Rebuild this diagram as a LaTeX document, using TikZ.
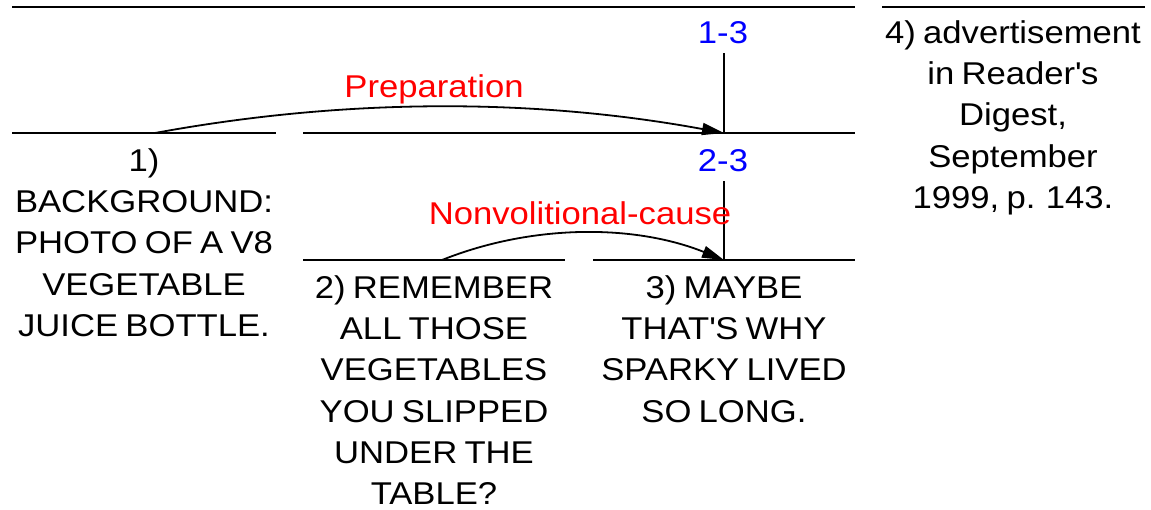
\documentclass[tikz,border=0pt]{standalone}
\usepackage{fontspec}
\setmainfont[FakeStretch=1.1,WordSpace=0.75]{Liberation Sans}
\usetikzlibrary{arrows.meta}
\begin{document}
\begin{tikzpicture}[x=1pt,y=-1pt,
  seg/.style={line width=1.8pt},
  txtfont/.style={font=\fontsize{31.5}{41.2}\selectfont},
  segtext/.style={txtfont, align=center, inner sep=0pt, anchor=north},
  rellabel/.style={txtfont, text=red, inner sep=0pt, anchor=base},
  spanlabel/.style={txtfont, text=blue, inner sep=0pt},
  relarc/.style={line width=1.8pt, -{Triangle[length=22pt,width=12pt]}}]
\useasboundingbox (0,0) rectangle (1151,509);

% horizontal segment lines
\coordinate (top1) at (12,7);   \coordinate (top2) at (855,7);
\coordinate (s4a) at (882,7);   \coordinate (s4b) at (1145,7);
\coordinate (s1a) at (12,133);  \coordinate (s1b) at (276,133);
\coordinate (s23a) at (303,133); \coordinate (s23b) at (855,133);
\coordinate (s2a) at (303,260); \coordinate (s2b) at (565,260);
\coordinate (s3a) at (593,260); \coordinate (s3b) at (855,260);
\draw[seg] (top1) -- (top2);
\draw[seg] (s4a) -- (s4b);
\draw[seg] (s1a) -- (s1b);
\draw[seg] (s23a) -- (s23b);
\draw[seg] (s2a) -- (s2b);
\draw[seg] (s3a) -- (s3b);

% span labels and verticals
\node[spanlabel] (l13) at (723,32.5) {1-3};
\node[spanlabel] (l23) at (723,161) {2-3};
\coordinate (v13t) at (724,53);  \coordinate (v13b) at (724,133);
\coordinate (v23t) at (724,181); \coordinate (v23b) at (724,260);
\draw[seg] (v13t) -- (v13b);
\draw[seg] (v23t) -- (v23b);

% segment texts
\node[segtext] (n1) at (144,148.5) {1)\\BACKGROUND:\\PHOTO OF A V8\\VEGETABLE\\JUICE BOTTLE.};
\node[segtext] (n2) at (434,275.5) {2) REMEMBER\\ALL THOSE\\VEGETABLES\\YOU SLIPPED\\UNDER THE\\TABLE?};
\node[segtext] (n3) at (724,275.5) {3) MAYBE\\THAT\textquotesingle S WHY\\SPARKY LIVED\\SO LONG.};
\node[segtext] (n4) at (1013,20.5) {4) advertisement\\in Reader\textquotesingle s\\Digest,\\September\\1999, p. 143.};

% relations
\node[rellabel] (prep) at (434,97) {Preparation};
\node[rellabel] (nvc) at (580,224) {Nonvolitional-cause};
\coordinate (prepS) at (155,133);
\coordinate (nvcS) at (442,260);
\draw[relarc] (prepS) .. controls (345,98) and (534,98) .. (v13b);
\draw[relarc] (nvcS) .. controls (532,224) and (634,224) .. (v23b);
\end{tikzpicture}
\end{document}
